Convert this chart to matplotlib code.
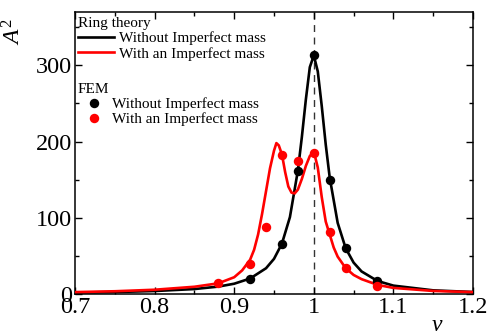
import matplotlib
matplotlib.use("Agg")
import matplotlib.pyplot as plt
from matplotlib.lines import Line2D
from matplotlib.ticker import MultipleLocator

plt.rcParams['font.family'] = ['Liberation Serif', 'DejaVu Serif']
plt.rcParams['mathtext.fontset'] = 'custom'
plt.rcParams['mathtext.rm'] = 'Liberation Serif'
plt.rcParams['mathtext.it'] = 'Liberation Serif:italic'

# Ring theory curves
nu_black = [0.70, 0.75, 0.80, 0.85, 0.88, 0.90, 0.92, 0.94, 0.95, 0.96, 0.97, 0.98,
            0.985, 0.99, 0.995, 1.00, 1.005, 1.01, 1.015, 1.02, 1.03, 1.04, 1.05,
            1.06, 1.08, 1.10, 1.15, 1.20]
a2_black = [1.9, 2.6, 3.9, 6.5, 9.7, 13.5, 20.3, 33.8, 46.1, 66.2, 100.9, 162,
            206, 255, 297.6, 313, 292, 246.5, 196, 152.7, 93.3, 60.2, 41.2,
            29.6, 17.1, 11.0, 4.8, 2.6]

nu_red = [0.70, 0.75, 0.80, 0.85, 0.88, 0.90, 0.91, 0.92, 0.925, 0.93, 0.935, 0.94,
          0.945, 0.95, 0.953, 0.956, 0.96, 0.964, 0.968, 0.972, 0.976, 0.98,
          0.985, 0.99, 0.995, 1.00, 1.005, 1.01, 1.015, 1.02, 1.025, 1.03,
          1.04, 1.05, 1.06, 1.08, 1.10, 1.15, 1.20]
a2_red = [2.5, 3.6, 5.6, 9.5, 14.0, 22, 31, 45, 58, 78, 105, 135,
          165, 188, 198, 195, 183, 160, 141, 133, 132, 137,
          151, 168, 181, 187, 166, 127, 95, 78, 61, 49,
          34, 25, 19.5, 12, 8, 4, 2.5]

# FEM points
fem_nu_black = [0.92, 0.96, 0.98, 1.00, 1.02, 1.04, 1.08]
fem_a2_black = [20, 66, 162, 314, 149, 60, 17]
fem_nu_red = [0.88, 0.92, 0.94, 0.96, 0.98, 1.00, 1.02, 1.04, 1.08]
fem_a2_red = [14, 39, 88, 183, 174, 185, 81, 34, 11]

xticks = [0.7, 0.8, 0.9, 1.0, 1.1, 1.2]
xticklabels = ['0.7', '0.8', '0.9', '1', '1.1', '1.2']
yticks = [0, 100, 200, 300]

fig = plt.figure(figsize=(4.88, 3.33), dpi=100)
ax = fig.add_axes([75/488, 39/333, 398/488, 282/333])

ax.axvline(1.0, color='#333333', lw=1.0, ls=(0, (5, 4)), zorder=1)
ax.plot(nu_black, a2_black, color='black', lw=1.9, zorder=3)
ax.plot(nu_red, a2_red, color='#ff0000', lw=1.9, zorder=4)
ax.plot(fem_nu_black, fem_a2_black, 'o', color='black', ms=6.8, mec='none', zorder=5)
ax.plot(fem_nu_red, fem_a2_red, 'o', color='#ff0000', ms=6.8, mec='none', zorder=6)

ax.set_xlim(0.7, 1.2)
ax.set_ylim(0, 370)
ax.set_xticks(xticks)
ax.set_xticklabels(xticklabels)
ax.set_yticks(yticks)
ax.xaxis.set_minor_locator(MultipleLocator(0.05))
ax.yaxis.set_minor_locator(MultipleLocator(50))
ax.tick_params(which='both', direction='in', top=True, right=True, width=1.0)
ax.tick_params(which='major', length=5, labelsize=17.5, pad=2)
ax.tick_params(which='minor', length=3)
for s in ax.spines.values():
    s.set_linewidth(1.1)

ax.set_ylabel(r'$A^2$', fontsize=17, labelpad=0)
ax.yaxis.set_label_coords(-0.125, 0.93)
ax.set_xlabel(r'$\nu$', fontsize=17)
ax.xaxis.set_label_coords(0.91, -0.075)

h1 = [Line2D([], [], color='black', lw=1.9), Line2D([], [], color='#ff0000', lw=1.9)]
leg1 = ax.legend(h1, ['Without Imperfect mass', 'With an Imperfect mass'],
                 title='Ring theory', loc='upper left', bbox_to_anchor=(-0.005, 1.0),
                 frameon=False, fontsize=11, title_fontsize=11, alignment='left',
                 handlelength=2.4, handletextpad=0.3, labelspacing=0.12,
                 borderaxespad=0.2, borderpad=0.1)
ax.add_artist(leg1)
h2 = [Line2D([], [], color='black', marker='o', ls='none', ms=6.8, mec='none'),
      Line2D([], [], color='#ff0000', marker='o', ls='none', ms=6.8, mec='none')]
ax.legend(h2, ['Without Imperfect mass', 'With an Imperfect mass'],
          title='FEM', loc='upper left', bbox_to_anchor=(-0.005, 0.765),
          frameon=False, fontsize=11, title_fontsize=11, alignment='left',
          handlelength=2.1, handletextpad=0.15, labelspacing=0.1,
          borderaxespad=0.2, borderpad=0.1)

fig.savefig('out.png', dpi=100)
